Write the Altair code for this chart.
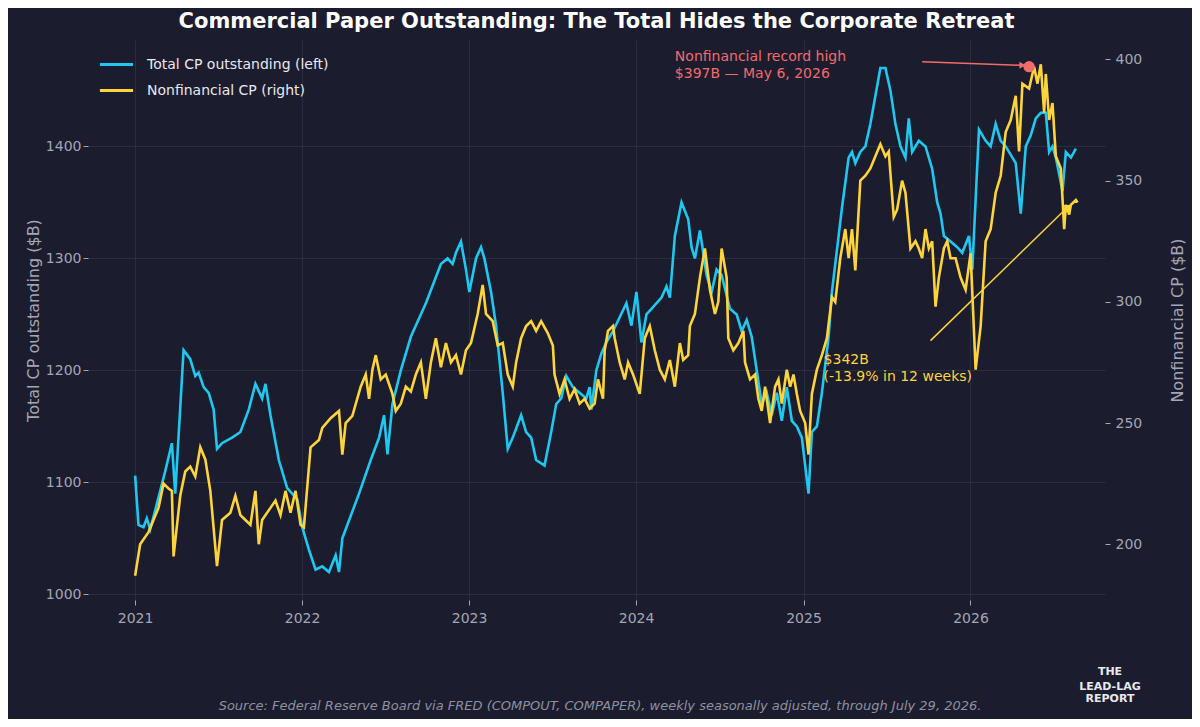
import altair as alt
import pandas as pd

# decimal-year positions and values
total_years = [2021.00, 2021.02, 2021.05, 2021.07, 2021.09, 2021.12, 2021.18, 2021.22, 2021.24, 2021.29, 2021.33, 2021.36, 2021.38, 2021.41, 2021.44, 2021.47, 2021.49, 2021.52, 2021.58, 2021.63, 2021.68, 2021.72, 2021.76, 2021.78, 2021.81, 2021.86, 2021.91, 2021.97, 2022.00, 2022.04, 2022.08, 2022.12, 2022.16, 2022.20, 2022.22, 2022.24, 2022.29, 2022.34, 2022.41, 2022.46, 2022.49, 2022.51, 2022.54, 2022.59, 2022.65, 2022.74, 2022.83, 2022.87, 2022.90, 2022.92, 2022.95, 2022.98, 2023.00, 2023.04, 2023.07, 2023.09, 2023.13, 2023.16, 2023.20, 2023.23, 2023.26, 2023.31, 2023.34, 2023.37, 2023.40, 2023.45, 2023.49, 2023.52, 2023.55, 2023.58, 2023.62, 2023.66, 2023.70, 2023.72, 2023.73, 2023.76, 2023.79, 2023.82, 2023.86, 2023.94, 2023.97, 2024.00, 2024.03, 2024.06, 2024.09, 2024.15, 2024.18, 2024.20, 2024.23, 2024.27, 2024.31, 2024.33, 2024.35, 2024.38, 2024.42, 2024.45, 2024.48, 2024.51, 2024.56, 2024.60, 2024.63, 2024.66, 2024.69, 2024.72, 2024.75, 2024.78, 2024.81, 2024.84, 2024.87, 2024.90, 2024.93, 2024.96, 2024.99, 2025.03, 2025.05, 2025.08, 2025.11, 2025.15, 2025.17, 2025.21, 2025.23, 2025.27, 2025.29, 2025.31, 2025.34, 2025.37, 2025.40, 2025.43, 2025.46, 2025.49, 2025.52, 2025.55, 2025.58, 2025.61, 2025.63, 2025.65, 2025.69, 2025.73, 2025.77, 2025.80, 2025.82, 2025.84, 2025.88, 2025.92, 2025.95, 2025.99, 2026.01, 2026.05, 2026.09, 2026.12, 2026.15, 2026.18, 2026.21, 2026.27, 2026.30, 2026.33, 2026.36, 2026.39, 2026.42, 2026.45, 2026.47, 2026.49, 2026.51, 2026.55, 2026.57, 2026.60, 2026.63]
total_vals = [1106, 1062, 1060, 1068, 1058, 1075, 1110, 1135, 1090, 1218, 1210, 1195, 1198, 1185, 1180, 1165, 1130, 1135, 1140, 1145, 1165, 1188, 1175, 1188, 1160, 1120, 1095, 1085, 1060, 1040, 1022, 1025, 1020, 1035, 1020, 1050, 1070, 1090, 1120, 1140, 1160, 1125, 1170, 1200, 1230, 1260, 1295, 1300, 1295, 1305, 1315, 1290, 1270, 1300, 1310, 1300, 1270, 1240, 1180, 1130, 1140, 1160, 1145, 1140, 1120, 1115, 1145, 1170, 1175, 1195, 1185, 1180, 1175, 1185, 1165, 1200, 1215, 1225, 1235, 1260, 1240, 1270, 1225, 1250, 1255, 1265, 1275, 1265, 1320, 1350, 1335, 1310, 1300, 1325, 1285, 1270, 1290, 1285, 1255, 1250, 1235, 1245, 1230, 1200, 1170, 1180, 1160, 1180, 1155, 1185, 1155, 1150, 1140, 1090, 1145, 1150, 1180, 1230, 1270, 1320, 1345, 1390, 1395, 1385, 1395, 1400, 1420, 1445, 1470, 1470, 1450, 1420, 1400, 1390, 1425, 1395, 1405, 1400, 1380, 1350, 1340, 1320, 1315, 1310, 1305, 1320, 1290, 1415, 1405, 1400, 1420, 1405, 1400, 1385, 1340, 1400, 1410, 1425, 1430, 1430, 1395, 1400, 1390, 1360, 1395, 1390, 1398]

nonfin_years = [2021.00, 2021.03, 2021.08, 2021.14, 2021.17, 2021.20, 2021.22, 2021.23, 2021.27, 2021.30, 2021.33, 2021.36, 2021.39, 2021.42, 2021.45, 2021.49, 2021.52, 2021.57, 2021.60, 2021.63, 2021.66, 2021.69, 2021.72, 2021.74, 2021.76, 2021.81, 2021.84, 2021.87, 2021.90, 2021.93, 2021.96, 2021.99, 2022.01, 2022.05, 2022.10, 2022.12, 2022.17, 2022.22, 2022.24, 2022.26, 2022.30, 2022.35, 2022.38, 2022.40, 2022.42, 2022.44, 2022.47, 2022.50, 2022.54, 2022.56, 2022.59, 2022.62, 2022.65, 2022.68, 2022.71, 2022.74, 2022.77, 2022.80, 2022.83, 2022.86, 2022.89, 2022.92, 2022.95, 2022.98, 2023.01, 2023.05, 2023.08, 2023.10, 2023.14, 2023.17, 2023.20, 2023.23, 2023.26, 2023.28, 2023.31, 2023.34, 2023.37, 2023.40, 2023.43, 2023.47, 2023.50, 2023.51, 2023.54, 2023.57, 2023.60, 2023.63, 2023.66, 2023.69, 2023.72, 2023.75, 2023.77, 2023.80, 2023.81, 2023.83, 2023.86, 2023.87, 2023.90, 2023.93, 2023.95, 2023.98, 2024.02, 2024.05, 2024.08, 2024.11, 2024.14, 2024.17, 2024.20, 2024.23, 2024.26, 2024.28, 2024.31, 2024.32, 2024.35, 2024.38, 2024.41, 2024.44, 2024.47, 2024.49, 2024.51, 2024.54, 2024.55, 2024.58, 2024.61, 2024.64, 2024.65, 2024.68, 2024.71, 2024.73, 2024.75, 2024.77, 2024.80, 2024.83, 2024.85, 2024.87, 2024.90, 2024.92, 2024.94, 2024.96, 2024.98, 2025.01, 2025.03, 2025.05, 2025.08, 2025.11, 2025.14, 2025.17, 2025.19, 2025.22, 2025.25, 2025.27, 2025.29, 2025.31, 2025.34, 2025.37, 2025.40, 2025.43, 2025.46, 2025.49, 2025.51, 2025.54, 2025.56, 2025.59, 2025.61, 2025.64, 2025.67, 2025.69, 2025.71, 2025.73, 2025.75, 2025.77, 2025.79, 2025.81, 2025.84, 2025.86, 2025.88, 2025.91, 2025.94, 2025.97, 2026.00, 2026.03, 2026.06, 2026.09, 2026.12, 2026.15, 2026.18, 2026.21, 2026.24, 2026.27, 2026.29, 2026.31, 2026.35, 2026.38, 2026.40, 2026.42, 2026.44, 2026.45, 2026.47, 2026.49, 2026.51, 2026.54, 2026.56, 2026.57, 2026.59, 2026.60, 2026.63, 2026.64]
nonfin_vals = [187, 200, 205, 215, 225, 223, 222, 195, 220, 230, 232, 228, 240, 235, 222, 191, 210, 213, 220, 212, 210, 208, 222, 200, 210, 215, 218, 212, 222, 213, 222, 208, 207, 240, 243, 248, 252, 255, 237, 250, 253, 265, 270, 260, 272, 278, 268, 270, 262, 255, 258, 265, 263, 270, 275, 260, 275, 285, 273, 283, 275, 278, 270, 280, 283, 295, 307, 295, 292, 282, 283, 270, 265, 275, 285, 290, 292, 288, 292, 287, 282, 270, 262, 268, 260, 264, 258, 260, 256, 258, 268, 260, 280, 288, 290, 285, 275, 268, 275, 270, 262, 285, 290, 280, 272, 268, 276, 265, 283, 276, 278, 290, 295, 310, 322, 305, 295, 300, 322, 310, 285, 280, 283, 288, 275, 268, 270, 260, 255, 265, 250, 265, 268, 258, 272, 265, 270, 262, 255, 250, 237, 262, 272, 278, 285, 302, 300, 318, 330, 318, 330, 313, 350, 352, 355, 360, 365, 360, 362, 335, 338, 350, 345, 322, 325, 322, 318, 330, 322, 325, 298, 310, 322, 325, 318, 318, 310, 305, 320, 272, 290, 325, 330, 345, 352, 370, 375, 385, 362, 390, 388, 397, 390, 398, 378, 394, 375, 382, 360, 355, 330, 340, 336, 340, 342, 341]


def to_date(years):
    return [pd.Timestamp("2021-01-01") + pd.Timedelta(days=(y - 2021) * 365.25) for y in years]


SER_T = "Total CP outstanding (left)"
SER_N = "Nonfinancial CP (right)"
BLUE, YELLOW, RED = "#1ec8f0", "#fdd53a", "#f26b6b"
BG, GRID, TXT = "#1b1c2e", "#2a2c42", "#a3a6b4"
FONT = "DejaVu Sans"

tot = pd.DataFrame({"date": to_date(total_years), "v": total_vals, "s": SER_T})
nf = pd.DataFrame({"date": to_date(nonfin_years), "v": nonfin_vals, "s": SER_N})

xdom = [pd.Timestamp("2020-09-20").isoformat(), pd.Timestamp("2026-10-22").isoformat()]
xenc = alt.X("date:T", scale=alt.Scale(domain=xdom), title=None,
             axis=alt.Axis(format="%Y", tickCount="year", grid=True, gridColor=GRID,
                           labelColor=TXT, labelFontSize=14, domain=False, tickColor=TXT,
                           labelPadding=6))
color = alt.Color("s:N", scale=alt.Scale(domain=[SER_T, SER_N], range=[BLUE, YELLOW]),
                  legend=alt.Legend(title=None, orient="none", legendX=10, legendY=6,
                                    symbolType="stroke", symbolStrokeWidth=3, symbolSize=1100,
                                    labelColor="#e8e8ee", labelFontSize=14, rowPadding=-9,
                                    labelLimit=400, labelOffset=12))

left = alt.Chart(tot).mark_line(strokeWidth=2.6).encode(
    x=xenc,
    y=alt.Y("v:Q", scale=alt.Scale(domain=[995, 1495], nice=False),
            title="Total CP outstanding ($B)",
            axis=alt.Axis(values=[1000, 1100, 1200, 1300, 1400], format="d", gridColor=GRID,
                          labelColor=TXT, titleColor=TXT, labelFontSize=14, titleFontSize=16,
                          titleFontWeight="normal", domain=False, tickColor=TXT)),
    color=color,
)

rscale = alt.Scale(domain=[177, 408], nice=False)
raxis = alt.Axis(orient="right", values=[200, 250, 300, 350, 400], grid=False, labelColor=TXT,
                 titleColor=TXT, labelFontSize=14, titleFontSize=16, titleFontWeight="normal",
                 titleAngle=270, titlePadding=44, labelPadding=5, domain=False, tickColor=TXT)
ry = alt.Y("v:Q", scale=rscale, title="Nonfinancial CP ($B)", axis=raxis)
right = alt.Chart(nf).mark_line(strokeWidth=2.6).encode(x=xenc, y=ry, color=color)

# annotations
peak = pd.DataFrame({"date": to_date([2026.35]), "v": [397]})
peak_dot = alt.Chart(peak).mark_point(filled=True, size=130, color=RED, opacity=1).encode(
    x="date:T", y=ry)
red_arrow = pd.DataFrame({"date": to_date([2025.71]), "d2": to_date([2026.33]), "v": [399], "v2": [397.5]})
red_line = alt.Chart(red_arrow).mark_rule(color=RED, strokeWidth=1.5).encode(
    x="date:T", x2="d2:T", y=ry, y2="v2:Q")
red_txt = alt.Chart(pd.DataFrame({"date": to_date([2024.23]), "v": [404]})).mark_text(
    text=["Nonfinancial record high", "$397B — May 6, 2026"], align="left", baseline="top",
    color=RED, fontSize=14, lineHeight=17).encode(x="date:T", y=ry)

y_arrow = pd.DataFrame({"date": to_date([2025.76]), "d2": to_date([2026.58]), "v": [284], "v2": [339]})
y_line = alt.Chart(y_arrow).mark_rule(color=YELLOW, strokeWidth=1.5).encode(
    x="date:T", x2="d2:T", y=ry, y2="v2:Q")
y_head = alt.Chart(pd.DataFrame({"date": to_date([2026.58]), "v": [339]})).mark_point(
    shape="triangle", angle=56, size=60, filled=True, color=YELLOW, opacity=1).encode(
    x="date:T", y=ry)
r_head = alt.Chart(pd.DataFrame({"date": to_date([2026.31]), "v": [397.6]})).mark_point(
    shape="triangle-right", size=50, filled=True, color=RED, opacity=1).encode(
    x="date:T", y=ry)
y_txt = alt.Chart(pd.DataFrame({"date": to_date([2025.12]), "v": [279]})).mark_text(
    text=["$342B", "(-13.9% in 12 weeks)"], align="left", baseline="top",
    color=YELLOW, fontSize=14, lineHeight=17).encode(x="date:T", y=ry)

logo = alt.Chart(pd.DataFrame({"t": ["THE", "LEAD-LAG", "REPORT"], "yy": [632, 647, 659]})).mark_text(
    color="#e8e8ee", fontWeight="bold", fontSize=11).encode(
    text="t:N", x=alt.value(1022), y=alt.Y("yy:Q", scale=None))
source = alt.Chart(pd.DataFrame({"t": ["Source: Federal Reserve Board via FRED (COMPOUT, COMPAPER), weekly seasonally adjusted, through July 29, 2026."]})).mark_text(
    color="#8e91a0", fontStyle="italic", fontSize=13).encode(
    text="t:N", x=alt.value(512), y=alt.value(666))

chart = alt.layer(
    alt.layer(left, logo, source).resolve_scale(y="independent"),
    alt.layer(right, peak_dot, red_line, r_head, red_txt, y_line, y_head, y_txt),
).resolve_scale(y="independent").properties(
    width=1017, height=560, background=BG,
    autosize=alt.AutoSizeParams(type="none"),
    padding={"left": 80, "top": 32, "right": 87, "bottom": 119},
    title=alt.Title("Commercial Paper Outstanding: The Total Hides the Corporate Retreat",
                    color="white", fontSize=21, font=FONT, fontWeight="bold",
                    anchor="middle", offset=8),
).configure_view(stroke=None).configure_axis(
    labelFont=FONT, titleFont=FONT
).configure_text(font=FONT).configure_legend(labelFont=FONT)

chart.save("out.html", embed_options={"renderer": "svg", "actions": False})
